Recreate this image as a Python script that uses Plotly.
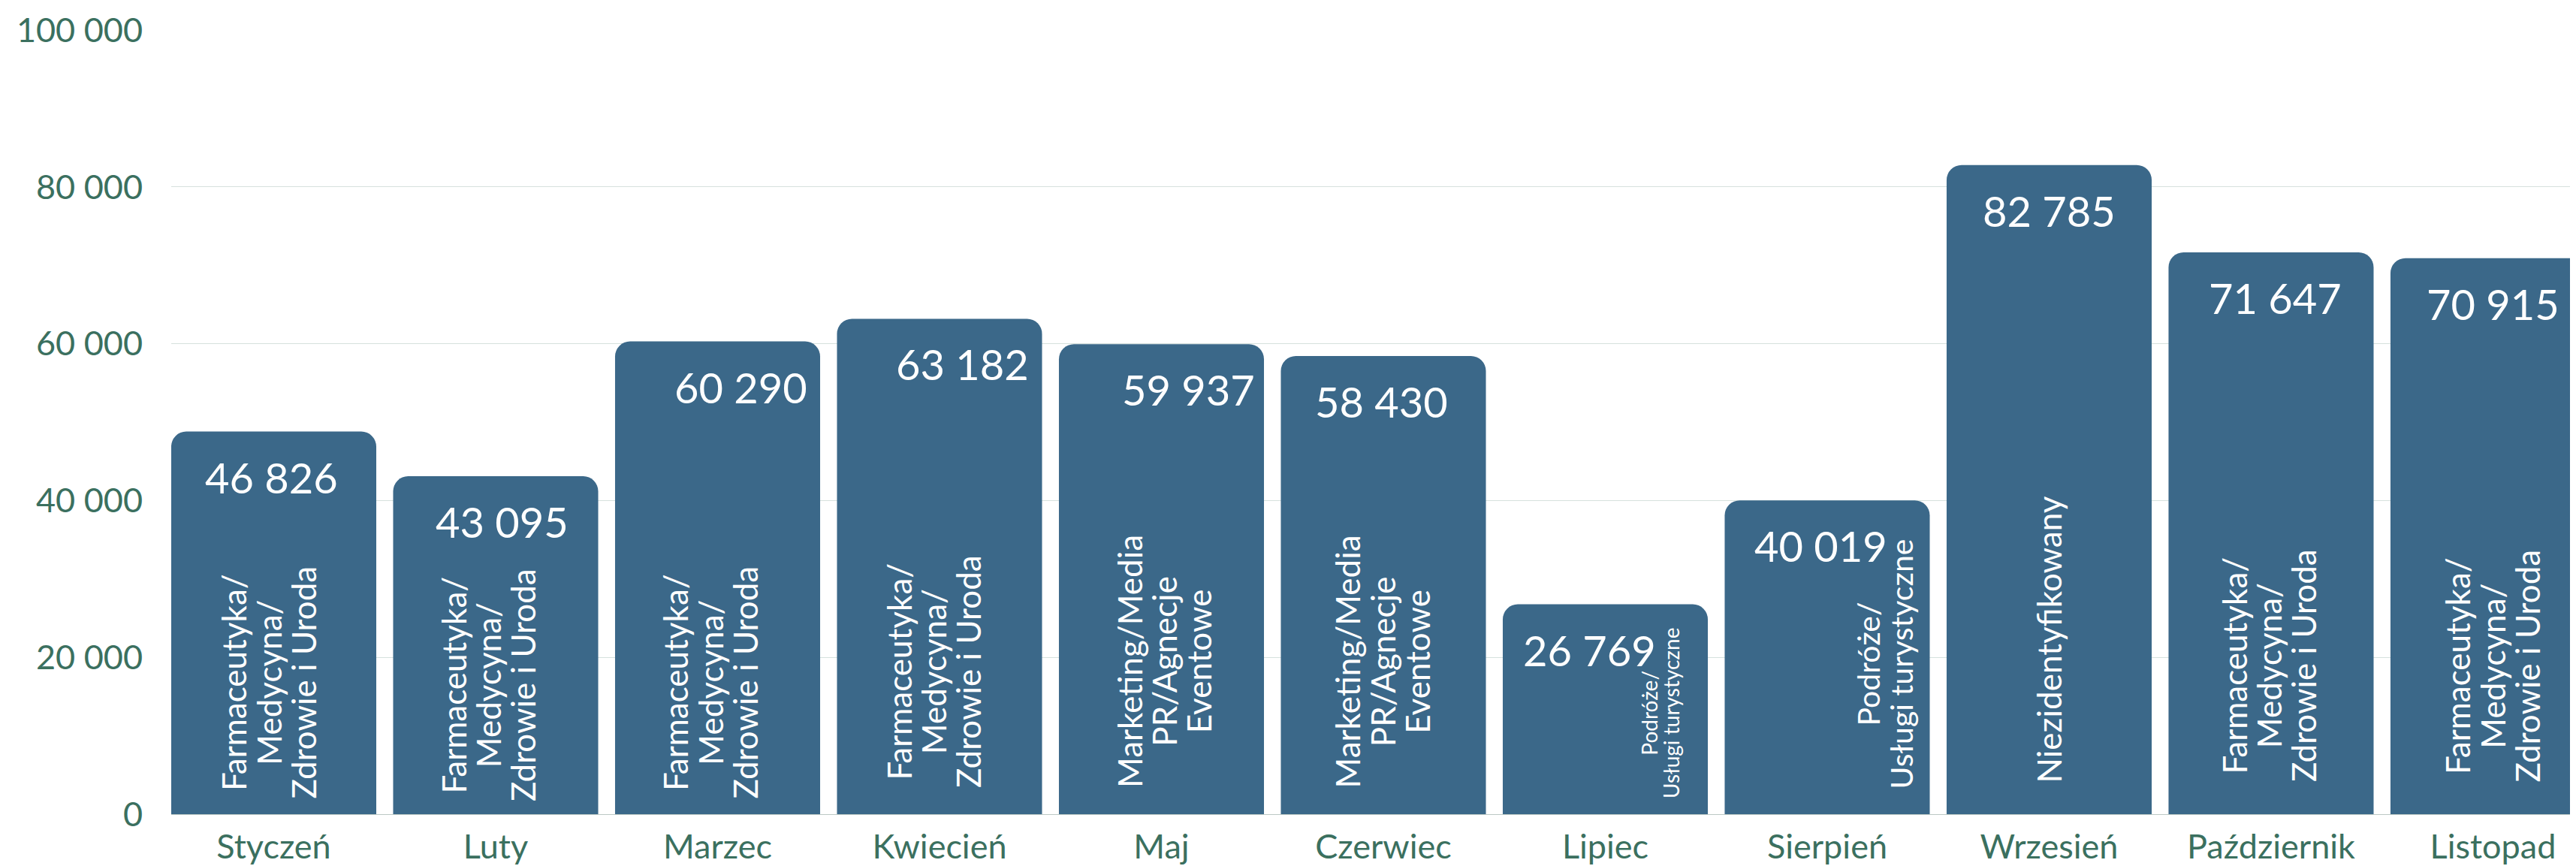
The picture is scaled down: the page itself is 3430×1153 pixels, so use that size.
import plotly.graph_objects as go

# ---------------- data ----------------
months = ["Styczeń", "Luty", "Marzec", "Kwiecień", "Maj", "Czerwiec",
          "Lipiec", "Sierpień", "Wrzesień", "Październik", "Listopad"]
bar_values = [48800, 43095, 60290, 63182, 59937, 58430,
              26769, 40019, 82785, 71647, 70915]
value_labels = ["46 826", "43 095", "60 290", "63 182", "59 937", "58 430",
                "26 769", "40 019", "82 785", "71 647", "70 915"]
FARMA = ["Farmaceutyka/", "Medycyna/", "Zdrowie i Uroda"]
MARKETING = ["Marketing/Media", "PR/Agnecje", "Eventowe"]
PODROZE = ["Podróże/", "Usługi turystyczne"]
NIEZ = ["Niezidentyfikowany"]
industries = [FARMA, FARMA, FARMA, FARMA, MARKETING, MARKETING,
              PODROZE, PODROZE, NIEZ, FARMA, FARMA]
y_tick_vals = [0, 20000, 40000, 60000, 80000, 100000]
y_tick_text = ["0", "20 000", "40 000", "60 000", "80 000", "100 000"]

# ---------------- style ----------------
BAR = "#3b6889"
GREEN = "#3b705f"
FONT = "Lato"
value_dx = [-3, 9, 31, 31, 36, -2, -21, -8, 0, 6, 0]          # px
cat_dx = [-7, -10, -10, -8, 3, -2, 73, 76, 0, -3, -1]          # px
cat_gap = [19, 15, 19, 33, 33, 33, 19, 32, 40, 41, 41]         # px above axis
cat_size = [44, 44, 44, 44, 44, 44, 28, 41, 44, 44, 44]

x = list(range(len(months)))

fig = go.Figure(go.Bar(
    x=x, y=bar_values,
    marker=dict(color=BAR, cornerradius=20, line=dict(width=0)),
    hoverinfo="skip",
))

annotations = []
for i in x:
    annotations.append(dict(
        x=i, y=bar_values[i], xref="x", yref="y",
        text=value_labels[i], showarrow=False,
        xanchor="center", yanchor="top",
        xshift=value_dx[i], yshift=-25,
        font=dict(family=FONT, size=56, color="white"),
    ))
    fs = cat_size[i]
    pitch = fs * 1.05
    txt = "<br>".join(f"<span style='font-size:{fs}px'>{ln}</span>" for ln in industries[i])
    annotations.append(dict(
        x=i, y=0, xref="x", yref="y",
        text=txt, showarrow=False, textangle=-90, align="center",
        xanchor="center", yanchor="bottom",
        xshift=cat_dx[i], yshift=cat_gap[i],
        font=dict(family=FONT, size=pitch / 1.3, color="white"),
    ))

fig.update_layout(
    width=3422, height=1145,
    margin=dict(l=220, r=0, t=32, b=66),
    paper_bgcolor="white", plot_bgcolor="white",
    bargap=0.076,
    showlegend=False,
    font=dict(family=FONT, color=GREEN),
    annotations=annotations,
    xaxis=dict(
        tickmode="array", tickvals=x, ticktext=months,
        range=[-0.4619, 10.374],
        showgrid=False, zeroline=False, showline=False,
        ticks="", tickfont=dict(family=FONT, size=45, color=GREEN),
        ticklabelstandoff=13,
    ),
    yaxis=dict(
        range=[0, 100000], tickmode="array",
        tickvals=y_tick_vals, ticktext=y_tick_text,
        showgrid=True, gridcolor="#d6e1dd", gridwidth=1,
        zeroline=True, zerolinecolor="#bcc8c4", zerolinewidth=1,
        showline=False, ticks="",
        tickfont=dict(family=FONT, size=45, color=GREEN),
        ticklabelstandoff=37,
    ),
)

fig.write_html("out.html")
